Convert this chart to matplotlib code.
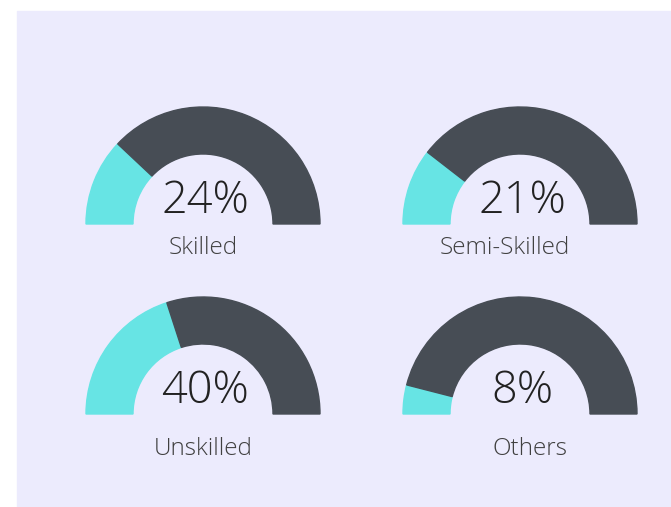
#!/usr/bin/env python3
# Half-donut gauges: workforce skill split
import matplotlib.pyplot as plt
from matplotlib.patches import Wedge, Rectangle

labels = ['Skilled', 'Semi-Skilled', 'Unskilled', 'Others']
values = [24, 21, 40, 8]

# gauge centres (pixel coords, y measured from top)
centres = [(203, 224), (520, 224), (203, 414), (520, 414)]
label_pos = [(203, 254), (505, 254), (203, 455), (530, 455)]

cyan = '#67E4E4'
dark = '#474D55'
bg = '#ECEBFD'

fig = plt.figure(figsize=(6.71, 5.07), dpi=100)
ax = fig.add_axes([0, 0, 1, 1])
ax.set_xlim(0, 671)
ax.set_ylim(507, 0)
ax.axis('off')

ax.add_patch(Rectangle((17, 11), 660, 500, color=bg, zorder=0))

r_out = 117
width = 47

for (cx, cy), val, lab, (lx, ly) in zip(centres, values, labels, label_pos):
    split = 180 - val / 100 * 180
    # y axis is inverted, so angles are mirrored: use negative angles
    ax.add_patch(Wedge((cx, cy), r_out, -180, -split, width=width,
                       color=cyan, zorder=2))
    ax.add_patch(Wedge((cx, cy), r_out, -split, 0, width=width,
                       color=dark, zorder=2))
    ax.text(cx + 2, cy - 11, f'{val}%', ha='center', va='baseline',
            fontsize=32.5, family='Open Sans', fontweight='light',
            color='#222222', zorder=3)
    ax.text(lx, ly, lab, ha='center', va='baseline', fontsize=17.5,
            family='Open Sans', fontweight='light', color='#404040',
            zorder=3)

fig.savefig('out.png', dpi=100, facecolor='white')
